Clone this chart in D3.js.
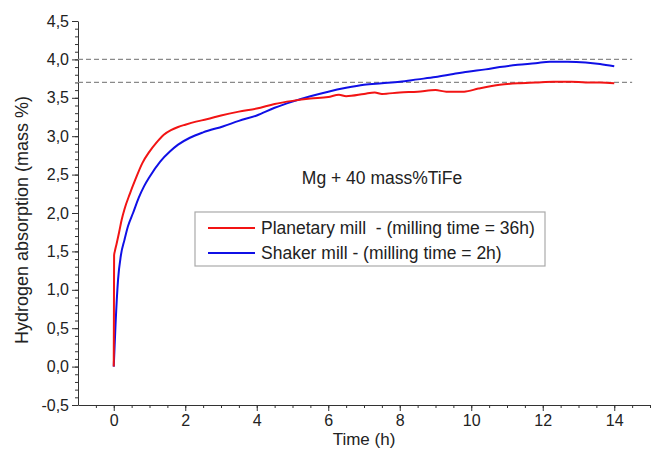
<!DOCTYPE html>
<html>
<head>
<meta charset="utf-8">
<script src="https://cdn.jsdelivr.net/npm/d3@7"></script>
<style>
  body { margin: 0; background: #fff; }
  svg { display: block; font-family: "Liberation Sans", Arial, sans-serif; }
  text { white-space: pre; }
</style>
</head>
<body>
<div id="chart"></div>
<script>
// Planetary mill, milling time 36h: [time (h), absorption (mass %)]
const planetary = [
  [0, 0], [0.005, 0.7], [0.01, 1.45], [0.03, 1.5], [0.08, 1.6], [0.15, 1.75], [0.22, 1.91],
  [0.3, 2.05], [0.45, 2.25], [0.6, 2.43], [0.8, 2.65], [1.0, 2.8], [1.2, 2.92], [1.4, 3.02],
  [1.6, 3.08], [1.8, 3.12], [2.0, 3.15], [2.3, 3.19], [2.6, 3.22], [3.0, 3.27], [3.5, 3.32],
  [4.0, 3.36], [4.5, 3.42], [5.0, 3.46], [5.5, 3.49], [6.0, 3.51], [6.3, 3.54], [6.5, 3.52],
  [7.0, 3.55], [7.3, 3.57], [7.5, 3.55], [8.0, 3.57], [8.5, 3.58], [9.0, 3.60], [9.3, 3.58],
  [9.8, 3.58], [10.2, 3.62], [10.8, 3.67], [11.3, 3.69], [11.8, 3.70], [12.3, 3.71],
  [12.8, 3.71], [13.2, 3.70], [13.6, 3.70], [14.0, 3.69]
];

// Shaker mill, milling time 2h
const shaker = [
  [0, 0], [0.05, 0.55], [0.12, 1.13], [0.2, 1.45], [0.3, 1.65], [0.4, 1.83], [0.54, 2.0],
  [0.7, 2.2], [0.85, 2.35], [1.0, 2.47], [1.3, 2.67], [1.57, 2.8], [1.8, 2.89], [2.13, 2.98],
  [2.5, 3.05], [3.07, 3.13], [3.5, 3.2], [4.0, 3.27], [4.5, 3.37], [5.0, 3.45], [5.5, 3.52],
  [6.0, 3.58], [6.5, 3.63], [7.0, 3.67], [7.5, 3.69], [8.0, 3.71], [8.5, 3.74], [9.0, 3.77],
  [9.5, 3.81], [9.9, 3.84], [10.4, 3.87], [10.8, 3.9], [11.3, 3.93], [11.8, 3.95], [12.2, 3.97],
  [12.7, 3.97], [13.2, 3.96], [13.6, 3.94], [14.0, 3.91]
];

const referenceLevels = [4.0, 3.7];
const xTicks = [0, 2, 4, 6, 8, 10, 12, 14];
const yTicks = [-0.5, 0, 0.5, 1, 1.5, 2, 2.5, 3, 3.5, 4, 4.5];
const legendLabels = ["Planetary mill  - (milling time = 36h)", "Shaker mill - (milling time = 2h)"];
const seriesColors = ["#f21414", "#1010e6"];

const width = 660, height = 452;
const margin = { top: 21, right: 10, bottom: 47, left: 78 };

const svg = d3.select("#chart").append("svg")
  .attr("width", width)
  .attr("height", height);

const x = d3.scaleLinear()
  .domain([-1, 15])
  .range([margin.left, width - margin.right]);

const y = d3.scaleLinear()
  .domain([-0.5, 4.5])
  .range([height - margin.bottom, margin.top]);

const fmt = d => d3.format(".1f")(d).replace(".", ",").replace("−", "-");

// minor ticks first so the major ones sit on top
svg.append("g")
  .attr("transform", `translate(0,${y(-0.5)})`)
  .call(d3.axisBottom(x).tickValues(d3.range(-0.5, 15.01, 0.5)).tickSize(3).tickFormat(""))
  .call(g => g.select(".domain").remove());

svg.append("g")
  .attr("transform", `translate(${x(-1)},0)`)
  .call(d3.axisLeft(y).tickValues(d3.range(-0.5, 4.51, 0.1)).tickSize(3).tickFormat(""))
  .call(g => g.select(".domain").remove());

const xAxis = svg.append("g")
  .attr("transform", `translate(0,${y(-0.5)})`)
  .call(d3.axisBottom(x).tickValues(xTicks).tickSize(6).tickSizeOuter(0).tickPadding(4));

const yAxis = svg.append("g")
  .attr("transform", `translate(${x(-1)},0)`)
  .call(d3.axisLeft(y).tickValues(yTicks).tickSize(6).tickSizeOuter(0).tickPadding(3).tickFormat(fmt));

[xAxis, yAxis].forEach(a => {
  a.selectAll("text").attr("font-size", 16).attr("fill", "#222");
  a.selectAll("line, path").attr("stroke", "#333");
});
svg.selectAll(".tick line").attr("stroke", "#333");

// reference levels
svg.append("g")
  .selectAll("line")
  .data(referenceLevels)
  .join("line")
  .attr("x1", x(-1))
  .attr("x2", x(14.5))
  .attr("y1", d => y(d))
  .attr("y2", d => y(d))
  .attr("stroke", "#8a8a8a")
  .attr("stroke-width", 1.3)
  .attr("stroke-dasharray", "5,3");

const line = d3.line()
  .x(d => x(d[0]))
  .y(d => y(d[1]))
  .curve(d3.curveMonotoneX);

svg.append("g")
  .selectAll("path")
  .data([shaker, planetary])
  .join("path")
  .attr("d", line)
  .attr("fill", "none")
  .attr("stroke", (d, i) => i === 0 ? seriesColors[1] : seriesColors[0])
  .attr("stroke-width", 2);

// annotation
svg.append("text")
  .attr("x", 382)
  .attr("y", 184)
  .attr("text-anchor", "middle")
  .attr("font-size", 17.5)
  .attr("fill", "#222")
  .text("Mg + 40 mass%TiFe");

// legend
const legend = svg.append("g").attr("transform", "translate(195,212)");
legend.append("rect")
  .attr("width", 350)
  .attr("height", 54)
  .attr("fill", "#fff")
  .attr("stroke", "#aaa")
  .attr("stroke-width", 1.2);

const items = legend.selectAll("g.item")
  .data(legendLabels)
  .join("g")
  .attr("class", "item")
  .attr("transform", (d, i) => `translate(0,${16 + i * 25})`);

items.append("line")
  .attr("x1", 13).attr("x2", 60)
  .attr("stroke", (d, i) => seriesColors[i])
  .attr("stroke-width", 2);

items.append("text")
  .attr("x", 66)
  .attr("dy", "0.35em")
  .attr("font-size", 17.5)
  .attr("fill", "#222")
  .text(d => d);

// axis titles
svg.append("text")
  .attr("x", x(7))
  .attr("y", 445)
  .attr("text-anchor", "middle")
  .attr("font-size", 17)
  .attr("fill", "#222")
  .text("Time (h)");

svg.append("text")
  .attr("transform", `translate(28,220) rotate(-90)`)
  .attr("text-anchor", "middle")
  .attr("font-size", 18)
  .attr("fill", "#222")
  .text("Hydrogen absorption (mass %)");
</script>
</body>
</html>
